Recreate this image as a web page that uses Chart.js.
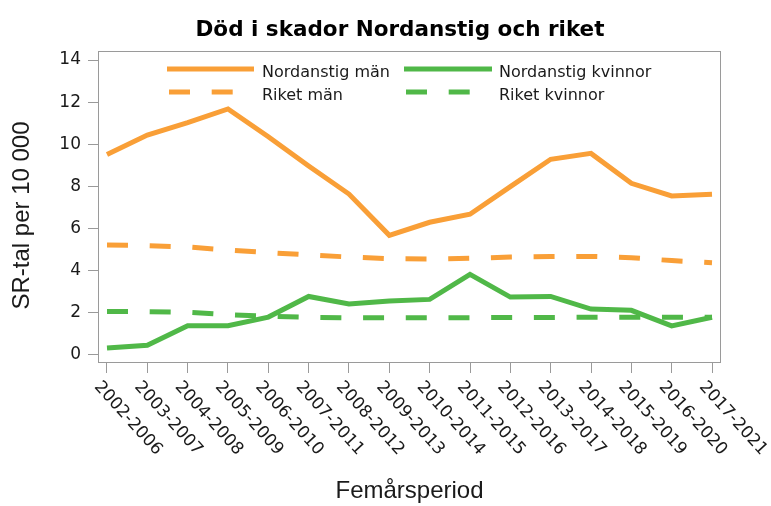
<!DOCTYPE html>
<html>
<head>
<meta charset="utf-8">
<script src="https://cdn.jsdelivr.net/npm/chart.js@4/dist/chart.umd.min.js"></script>
<style>
  html, body { margin: 0; padding: 0; background: #ffffff; }
  canvas { display: block; }
</style>
</head>
<body>
<canvas id="c" width="771" height="506"></canvas>
<script>
const categories = ['2002-2006','2003-2007','2004-2008','2005-2009','2006-2010','2007-2011','2008-2012','2009-2013','2010-2014','2011-2015','2012-2016','2013-2017','2014-2018','2015-2019','2016-2020','2017-2021'];
const nordanstigMan = [9.52, 10.44, 11.03, 11.68, 10.36, 8.97, 7.64, 5.68, 6.30, 6.68, 7.99, 9.29, 9.57, 8.15, 7.55, 7.63];
const riketMan = [5.22, 5.19, 5.13, 4.98, 4.86, 4.75, 4.65, 4.57, 4.56, 4.59, 4.65, 4.67, 4.68, 4.62, 4.48, 4.38];
const nordanstigKvinnor = [0.33, 0.46, 1.39, 1.39, 1.80, 2.78, 2.42, 2.56, 2.64, 3.83, 2.75, 2.78, 2.18, 2.12, 1.38, 1.79];
const riketKvinnor = [2.07, 2.06, 2.03, 1.91, 1.84, 1.79, 1.77, 1.77, 1.77, 1.77, 1.78, 1.78, 1.79, 1.79, 1.79, 1.79];
const yTicks = [0, 2, 4, 6, 8, 10, 12, 14];
const seriesLabels = ['Nordanstig män', 'Nordanstig kvinnor', 'Riket män', 'Riket kvinnor'];
const chartTitle = 'Död i skador Nordanstig och riket';
const xTitle = 'Femårsperiod';
const yTitle = 'SR-tal per 10 000';

const ORANGE = '#F99F37';
const GREEN = '#50B848';
const AXIS = '#9a9a9a';
const TEXT = '#1a1a1a';
const DASH = [21, 21.7];

function pts(arr) { return arr.map((v, i) => ({ x: i, y: v })); }

const decor = {
  id: 'decor',
  afterDraw(chart) {
    const ctx = chart.ctx;
    const a = chart.chartArea;
    const xs = chart.scales.x;
    ctx.save();
    ctx.strokeStyle = AXIS;
    ctx.lineWidth = 1;
    ctx.setLineDash([]);
    ctx.strokeRect(Math.round(a.left) + 0.5, Math.round(a.top) + 0.5, Math.round(a.right - a.left) - 1, Math.round(a.bottom - a.top) - 1);

    ctx.fillStyle = '#000';
    ctx.font = 'bold 21.5px "DejaVu Sans"';
    ctx.textAlign = 'center';
    ctx.textBaseline = 'alphabetic';
    ctx.fillText(chartTitle, 400, 35.5);

    ctx.save();
    ctx.translate(29, 215.5);
    ctx.rotate(-Math.PI / 2);
    ctx.font = '24px "Liberation Sans"';
    ctx.fillStyle = TEXT;
    ctx.textAlign = 'center';
    ctx.textBaseline = 'alphabetic';
    ctx.fillText(yTitle, 0, 0);
    ctx.restore();

    ctx.font = '17px "DejaVu Sans"';
    ctx.fillStyle = TEXT;
    categories.forEach((lab, i) => {
      const px = xs.getPixelForValue(i);
      ctx.save();
      ctx.translate(px - 10, 384);
      ctx.rotate(48 * Math.PI / 180);
      ctx.textAlign = 'left';
      ctx.textBaseline = 'middle';
      ctx.fillText(lab, 0, 0);
      ctx.restore();
    });

    const ds = chart.data.datasets;
    const items = [
      { d: ds[0], x1: 167, x2: 254, y: 69, tx: 262, ty: 77 },
      { d: ds[1], x1: 404, x2: 492, y: 69, tx: 499, ty: 77 },
      { d: ds[2], x1: 169, x2: 233, y: 92, tx: 262, ty: 99.5 },
      { d: ds[3], x1: 406, x2: 471, y: 92, tx: 499, ty: 99.5 }
    ];
    items.forEach(it => {
      ctx.strokeStyle = it.d.borderColor;
      ctx.lineWidth = 5;
      ctx.lineCap = 'butt';
      ctx.setLineDash(it.d.borderDash && it.d.borderDash.length ? DASH : []);
      ctx.beginPath();
      ctx.moveTo(it.x1, it.y);
      ctx.lineTo(it.x2, it.y);
      ctx.stroke();
      ctx.setLineDash([]);
      ctx.fillStyle = TEXT;
      ctx.font = '16px "DejaVu Sans"';
      ctx.textAlign = 'left';
      ctx.textBaseline = 'alphabetic';
      ctx.fillText(it.d.label, it.tx, it.ty);
    });
    ctx.restore();
  }
};

new Chart(document.getElementById('c'), {
  type: 'line',
  data: {
    datasets: [
      { label: seriesLabels[0], data: pts(nordanstigMan), borderColor: ORANGE, borderWidth: 5, pointRadius: 0, tension: 0, fill: false, borderJoinStyle: 'miter' },
      { label: seriesLabels[1], data: pts(nordanstigKvinnor), borderColor: GREEN, borderWidth: 5, pointRadius: 0, tension: 0, fill: false, borderJoinStyle: 'miter' },
      { label: seriesLabels[2], data: pts(riketMan), borderColor: ORANGE, borderWidth: 5, pointRadius: 0, tension: 0, fill: false, borderDash: DASH },
      { label: seriesLabels[3], data: pts(riketKvinnor), borderColor: GREEN, borderWidth: 5, pointRadius: 0, tension: 0, fill: false, borderDash: DASH }
    ]
  },
  options: {
    responsive: false,
    animation: false,
    devicePixelRatio: 1,
    layout: { padding: { top: 51, right: 50, left: 0, bottom: 0 } },
    plugins: { legend: { display: false }, title: { display: false }, tooltip: { enabled: false } },
    scales: {
      x: {
        type: 'linear',
        min: -0.223,
        max: 15.223,
        afterBuildTicks: s => { s.ticks = categories.map((c, i) => ({ value: i })); },
        afterFit: s => { s.height = 143; },
        grid: { drawOnChartArea: false, drawTicks: true, tickLength: 10, color: AXIS, lineWidth: 1 },
        border: { display: false },
        ticks: { display: false },
        title: { display: true, text: xTitle, font: { family: 'Liberation Sans', size: 24 }, color: TEXT, padding: 0 }
      },
      y: {
        type: 'linear',
        min: -0.38,
        max: 14.43,
        afterBuildTicks: s => { s.ticks = yTicks.map(v => ({ value: v })); },
        afterFit: s => { s.width = 98; },
        grid: { drawOnChartArea: false, drawTicks: true, tickLength: 10, color: AXIS, lineWidth: 1 },
        border: { display: false },
        ticks: { font: { family: 'DejaVu Sans', size: 17 }, color: TEXT, padding: 7 }
      }
    }
  },
  plugins: [decor]
});
</script>
</body>
</html>
